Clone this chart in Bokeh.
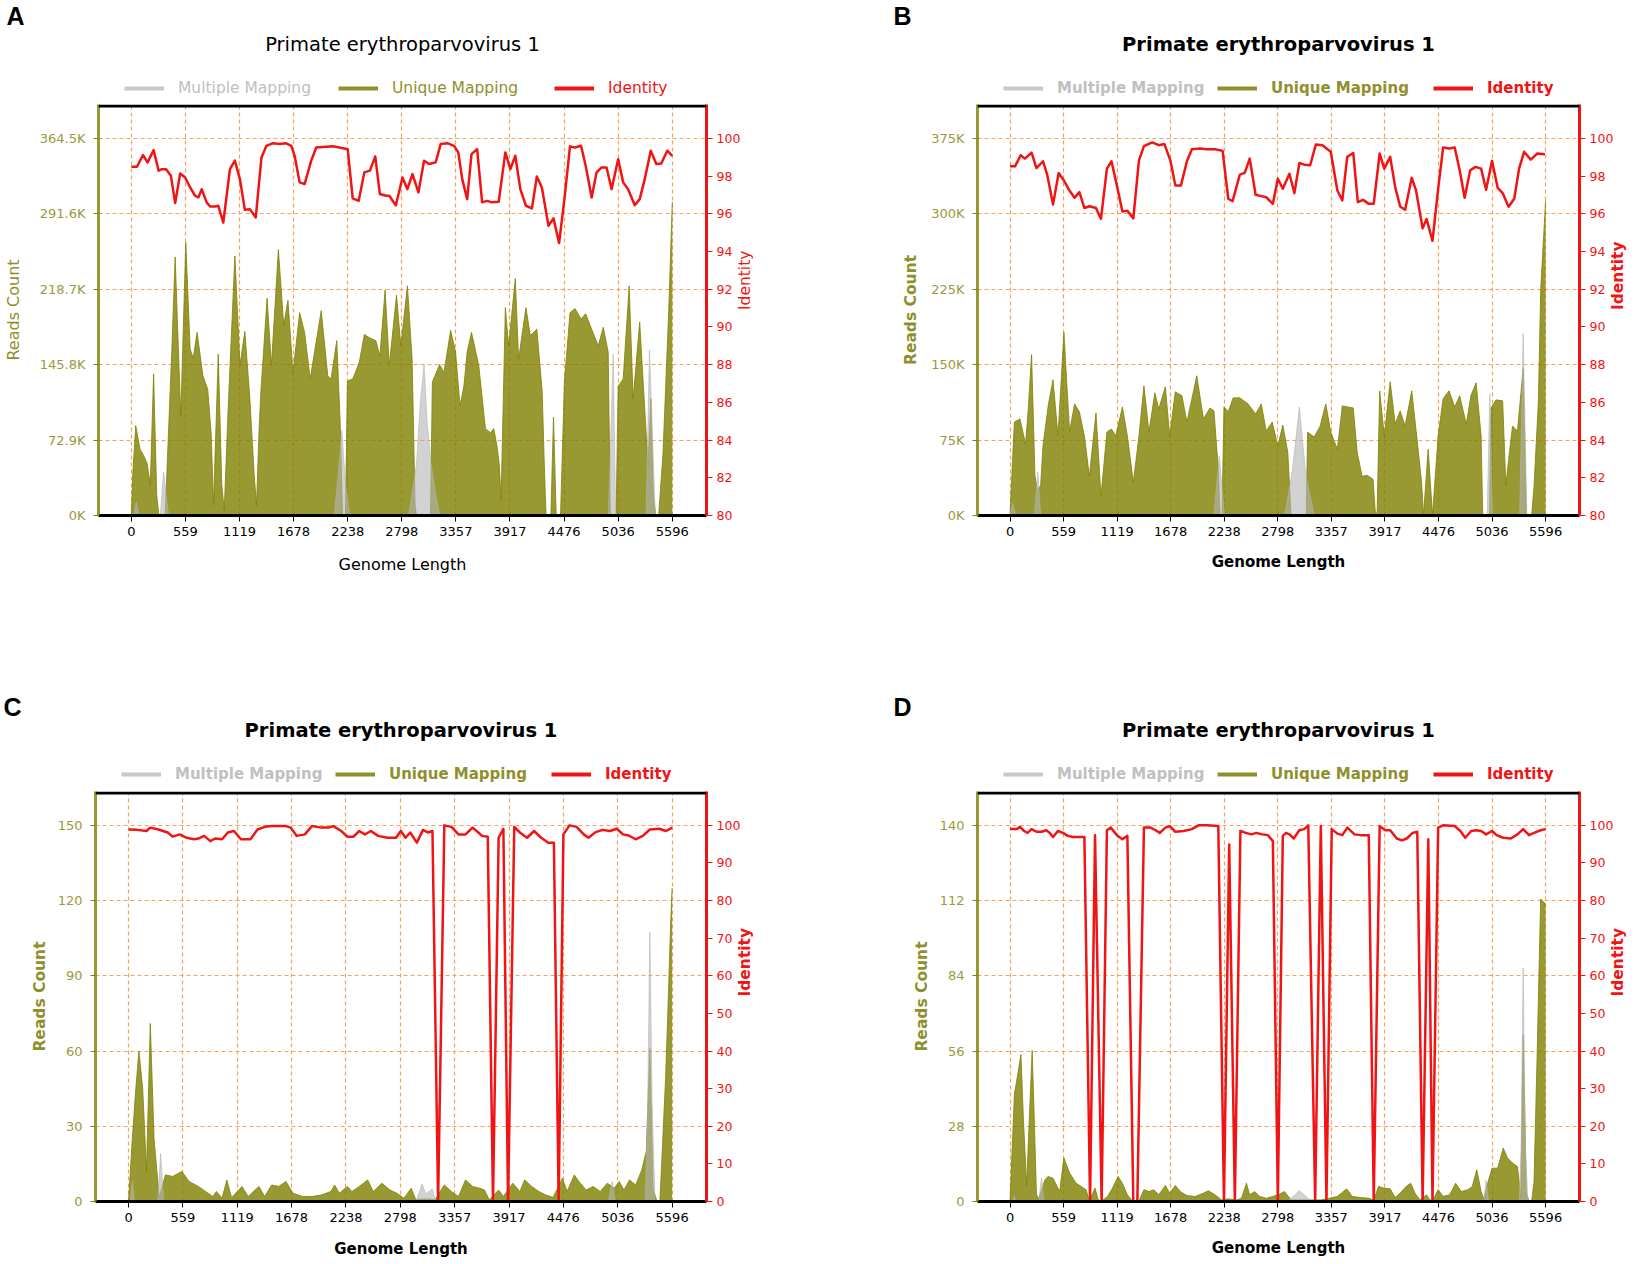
import math
from bokeh.plotting import figure
from bokeh.models import Range1d, LinearAxis, FixedTicker, Label, Legend, LegendItem, Span
from bokeh.layouts import column, row
from bokeh.embed import file_html
from bokeh.resources import INLINE

# ---------------- data ----------------
X_TICKS = [0, 559, 1119, 1678, 2238, 2798, 3357, 3917, 4476, 5036, 5596]
TITLE = "Primate erythroparvovirus 1"
SERIES_NAMES = ["Multiple Mapping", "Unique Mapping", "Identity"]

A_LEFT_TICKS = [0, 72900, 145800, 218700, 291600, 364500]
A_LEFT_LABELS = ["0K", "72.9K", "145.8K", "218.7K", "291.6K", "364.5K"]
B_LEFT_TICKS = [0, 75000, 150000, 225000, 300000, 375000]
B_LEFT_LABELS = ["0K", "75K", "150K", "225K", "300K", "375K"]
C_LEFT_TICKS = [0, 30, 60, 90, 120, 150]
D_LEFT_TICKS = [0, 28, 56, 84, 112, 140]
AB_RIGHT_TICKS = [80, 82, 84, 86, 88, 90, 92, 94, 96, 98, 100]
CD_RIGHT_TICKS = [0, 10, 20, 30, 40, 50, 60, 70, 80, 90, 100]

# Panel A (reads in thousands)
A_IDENTITY = [(0, 98.50), (58, 98.50), (120, 99.12), (168, 98.73), (230, 99.38), (282, 98.29), (316, 98.37),
              (360, 98.37), (409, 98.02), (453, 96.57), (505, 98.14), (556, 97.93), (608, 97.40), (659, 96.96),
              (693, 96.87), (728, 97.31), (779, 96.61), (814, 96.39), (865, 96.39), (899, 96.43), (951, 95.54),
              (1020, 98.37), (1071, 98.82), (1123, 97.84), (1174, 96.22), (1226, 96.25), (1287, 95.81),
              (1346, 98.99), (1397, 99.61), (1466, 99.75), (1535, 99.70), (1596, 99.75), (1655, 99.61),
              (1689, 99.08), (1741, 97.67), (1792, 97.58), (1861, 98.82), (1912, 99.52), (2015, 99.56),
              (2084, 99.58), (2152, 99.52), (2238, 99.43), (2290, 96.82), (2352, 96.69), (2410, 98.20),
              (2468, 98.29), (2523, 99.05), (2571, 97.05), (2633, 96.96), (2668, 96.96), (2736, 96.46),
              (2805, 97.93), (2856, 97.31), (2908, 98.11), (2970, 97.14), (3028, 98.82), (3080, 98.64),
              (3148, 98.73), (3200, 99.70), (3268, 99.75), (3337, 99.61), (3382, 99.26), (3423, 97.84),
              (3474, 96.78), (3519, 99.17), (3577, 99.43), (3629, 96.61), (3680, 96.69), (3732, 96.61),
              (3800, 96.64), (3869, 99.26), (3921, 98.37), (3972, 99.08), (4024, 97.31), (4082, 96.43),
              (4144, 96.29), (4195, 97.98), (4247, 97.40), (4315, 95.37), (4367, 95.76), (4425, 94.45),
              (4480, 96.78), (4538, 99.58), (4590, 99.52), (4652, 99.61), (4700, 98.55), (4762, 96.87),
              (4813, 98.20), (4865, 98.46), (4916, 98.46), (4968, 97.31), (5036, 98.90), (5088, 97.67),
              (5139, 97.31), (5208, 96.46), (5259, 96.78), (5311, 97.84), (5373, 99.35), (5431, 98.64),
              (5482, 98.67), (5544, 99.35), (5596, 99.08)]
A_UNIQUE_K = [(0, 0), (15, 40), (45, 87), (90, 64), (127, 58), (161, 51), (196, 30), (230, 137), (262, 20),
              (285, 0), (350, 0), (384, 80), (419, 161), (453, 250), (511, 96), (563, 264), (608, 161),
              (640, 152), (680, 177), (740, 135), (790, 122), (825, 80), (850, 10), (899, 156), (935, 30),
              (961, 5), (1000, 100), (1071, 251), (1123, 145), (1174, 178), (1226, 113), (1270, 40),
              (1295, 10), (1320, 80), (1340, 120), (1404, 210), (1449, 145), (1521, 257), (1576, 184),
              (1620, 208), (1672, 138), (1741, 196), (1792, 177), (1850, 132), (1964, 198), (2032, 135),
              (2066, 132), (2125, 169), (2160, 90), (2185, 0), (2215, 0), (2235, 130), (2290, 132),
              (2358, 148), (2410, 175), (2460, 172), (2530, 169), (2571, 154), (2625, 218), (2668, 145),
              (2743, 213), (2788, 164), (2856, 222), (2905, 150), (2935, 10), (2950, 0), (3095, 0),
              (3114, 129), (3189, 146), (3234, 138), (3303, 179), (3354, 158), (3400, 106), (3440, 125),
              (3474, 158), (3519, 177), (3594, 145), (3663, 84), (3715, 80), (3749, 84), (3783, 67),
              (3807, 48), (3825, 15), (3845, 100), (3869, 201), (3903, 164), (3972, 229), (4006, 151),
              (4082, 201), (4127, 174), (4195, 180), (4250, 120), (4275, 40), (4290, 0), (4340, 0),
              (4367, 95), (4395, 0), (4440, 0), (4480, 129), (4538, 196), (4590, 200), (4652, 190),
              (4700, 195), (4762, 180), (4830, 164), (4882, 182), (4933, 158), (4955, 0), (5015, 0),
              (5036, 125), (5088, 132), (5150, 222), (5191, 113), (5259, 187), (5311, 103), (5345, 48),
              (5375, 113), (5400, 20), (5425, 0), (5455, 0), (5500, 60), (5560, 200), (5596, 303)]
A_MULTIPLE_K = [(0, 0), (30, 3), (52, 13), (80, 0), (300, 0), (333, 42), (385, 0), (2100, 0), (2140, 40),
                (2177, 82), (2215, 30), (2260, 0), (2870, 0), (2950, 50), (2990, 110), (3028, 146),
                (3060, 90), (3100, 50), (3150, 20), (3190, 0), (4935, 0), (4985, 156), (5010, 0),
                (5325, 0), (5360, 160), (5420, 0), (5596, 0)]

# Panel B (reads in thousands)
B_IDENTITY = [(0, 98.52), (52, 98.52), (111, 99.11), (155, 98.93), (225, 99.25), (276, 98.43), (345, 98.79),
              (390, 98.04), (449, 96.49), (508, 98.17), (563, 97.77), (615, 97.28), (674, 96.85), (725, 97.15),
              (777, 96.31), (829, 96.40), (898, 96.31), (950, 95.73), (1012, 98.40), (1060, 98.79),
              (1116, 97.51), (1174, 96.12), (1226, 96.17), (1288, 95.76), (1347, 98.84), (1399, 99.59),
              (1485, 99.79), (1554, 99.64), (1613, 99.70), (1675, 98.84), (1727, 97.51), (1786, 97.51),
              (1848, 98.79), (1900, 99.43), (1986, 99.47), (2055, 99.43), (2141, 99.43), (2221, 99.34),
              (2280, 96.80), (2325, 96.67), (2401, 98.08), (2452, 98.17), (2504, 98.93), (2566, 97.01),
              (2625, 96.94), (2677, 96.88), (2746, 96.53), (2798, 97.86), (2850, 97.33), (2919, 98.13),
              (2971, 97.10), (3023, 98.70), (3074, 98.61), (3136, 98.58), (3195, 99.68), (3264, 99.64),
              (3351, 99.29), (3420, 97.24), (3472, 96.71), (3523, 99.02), (3586, 99.23), (3634, 96.62),
              (3689, 96.74), (3748, 96.53), (3800, 96.53), (3862, 99.20), (3910, 98.40), (3972, 99.02),
              (4024, 97.42), (4076, 96.39), (4128, 96.22), (4197, 97.92), (4242, 97.24), (4311, 95.23),
              (4352, 95.73), (4414, 94.57), (4473, 97.33), (4525, 99.52), (4587, 99.47), (4646, 99.52),
              (4698, 98.31), (4750, 96.85), (4808, 98.31), (4864, 98.49), (4922, 98.40), (4974, 97.28),
              (5036, 98.81), (5095, 97.38), (5147, 97.10), (5209, 96.38), (5268, 96.80), (5319, 98.40),
              (5371, 99.29), (5440, 98.88), (5509, 99.20), (5589, 99.16)]
B_UNIQUE_K = [(0, 0), (45, 93), (104, 96), (162, 71), (190, 105), (225, 160), (260, 40), (287, 25),
              (320, 30), (345, 70), (400, 110), (449, 135), (501, 79), (563, 182), (622, 83), (674, 111),
              (725, 103), (777, 79), (829, 39), (898, 102), (950, 19), (1012, 83), (1060, 86), (1105, 79),
              (1174, 108), (1226, 79), (1288, 33), (1347, 79), (1399, 129), (1451, 83), (1513, 122),
              (1554, 106), (1623, 128), (1668, 79), (1727, 123), (1796, 119), (1848, 93), (1951, 139),
              (2021, 96), (2090, 107), (2131, 104), (2176, 46), (2195, 0), (2215, 0), (2235, 108),
              (2280, 103), (2331, 117), (2401, 117), (2487, 111), (2566, 101), (2625, 111), (2677, 84),
              (2739, 93), (2798, 69), (2850, 90), (2902, 63), (2936, 0), (3095, 0), (3109, 83),
              (3178, 78), (3240, 89), (3299, 111), (3351, 83), (3420, 66), (3472, 109), (3586, 107),
              (3627, 63), (3679, 39), (3731, 40), (3793, 36), (3815, 5), (3835, 0), (3862, 124),
              (3910, 79), (3972, 133), (4024, 91), (4076, 104), (4128, 89), (4197, 124), (4249, 79),
              (4300, 33), (4320, 0), (4369, 66), (4414, 0), (4473, 79), (4525, 116), (4587, 124),
              (4646, 108), (4698, 119), (4767, 91), (4815, 119), (4870, 132), (4922, 79), (4939, 0),
              (5010, 0), (5026, 107), (5078, 115), (5147, 114), (5180, 30), (5215, 60), (5250, 89),
              (5302, 84), (5361, 146), (5395, 0), (5450, 0), (5475, 29), (5520, 113), (5545, 226),
              (5596, 313)]
B_MULTIPLE_K = [(0, 0), (25, 12), (60, 0), (255, 0), (290, 43), (320, 0), (2130, 0), (2186, 59), (2240, 0),
                (2870, 0), (2950, 45), (3023, 108), (3090, 40), (3180, 0), (4985, 0), (5013, 121),
                (5040, 0), (5325, 0), (5361, 181), (5400, 0), (5596, 0)]

# Panel C (reads)
C_IDENTITY = [(0, 98.9), (88, 98.8), (185, 98.5), (224, 99.4), (307, 98.9), (404, 98.1), (453, 97.0),
              (526, 97.6), (599, 96.7), (672, 96.3), (720, 96.5), (779, 97.2), (842, 95.8), (891, 96.5),
              (963, 96.3), (1022, 98.1), (1085, 98.5), (1158, 96.3), (1255, 96.3), (1328, 98.9),
              (1401, 99.6), (1474, 99.8), (1620, 99.8), (1669, 99.4), (1732, 97.2), (1815, 97.6),
              (1888, 99.8), (1985, 99.4), (2058, 99.4), (2107, 99.8), (2190, 98.5), (2253, 97.0),
              (2316, 97.0), (2375, 98.5), (2433, 97.6), (2496, 98.5), (2569, 97.2), (2666, 96.7),
              (2754, 96.7), (2803, 98.5), (2851, 96.7), (2900, 98.1), (2968, 95.4), (3032, 98.8),
              (3081, 98.1), (3129, 98.5), (3187, 0), (3251, 100), (3324, 99.6), (3397, 97.6), (3469, 97.6),
              (3542, 99.4), (3601, 98.1), (3640, 97.2), (3698, 97.0), (3752, 0), (3810, 96.7), (3859, 99.1),
              (3907, 0), (3971, 99.6), (4029, 98.1), (4102, 96.7), (4175, 98.5), (4248, 96.7), (4321, 95.4),
              (4379, 95.4), (4428, 0), (4477, 97.6), (4540, 100), (4613, 99.6), (4686, 97.6), (4735, 96.7),
              (4808, 98.2), (4881, 98.8), (4954, 98.5), (5027, 99.1), (5090, 97.6), (5148, 97.3),
              (5221, 96.3), (5294, 97.2), (5367, 98.9), (5465, 99.1), (5533, 98.5), (5596, 99.4)]
C_UNIQUE = [(0, 0), (39, 25), (73, 44), (107, 60), (146, 45), (185, 12), (224, 71), (263, 25), (292, 12),
            (315, 2), (340, 5), (380, 10.6), (453, 10), (550, 12), (623, 8), (720, 6), (793, 4), (866, 2),
            (905, 4), (963, 1.3), (1012, 8.6), (1061, 1.5), (1168, 6), (1231, 2), (1343, 6), (1401, 2),
            (1474, 6.6), (1547, 6), (1620, 8), (1693, 3.3), (1791, 2), (1888, 2), (1985, 2.6), (2083, 4),
            (2122, 6.6), (2170, 3.3), (2253, 6), (2300, 4), (2375, 6), (2462, 8.6), (2520, 4), (2608, 7.3),
            (2691, 4.6), (2763, 3.3), (2836, 1.3), (2910, 5.3), (2958, 0.7), (3000, 1), (3100, 1),
            (3154, 0.7), (3251, 6.6), (3324, 4), (3397, 2), (3469, 8.6), (3542, 6), (3615, 5.3),
            (3664, 4.6), (3713, 0.7), (3810, 4.6), (3859, 2), (3956, 7.3), (4029, 4), (4078, 8.6),
            (4151, 6), (4224, 4), (4297, 2.6), (4370, 1.6), (4467, 9.3), (4515, 4), (4589, 10.6),
            (4637, 8), (4710, 4.6), (4783, 6), (4856, 4), (4929, 7.3), (5002, 5.3), (5051, 8), (5100, 4.6),
            (5158, 8.6), (5221, 6.6), (5284, 12.6), (5330, 20), (5367, 61), (5400, 5), (5440, 0),
            (5470, 0), (5500, 25), (5530, 50), (5560, 85), (5580, 110), (5596, 125)]
C_MULTIPLE = [(0, 0), (20, 0), (39, 8), (60, 0), (300, 0), (331, 19), (360, 0), (2960, 0), (3022, 7),
              (3060, 3), (3129, 5), (3160, 0), (4940, 0), (4978, 8), (5010, 0), (5320, 0), (5345, 40),
              (5367, 107.5), (5390, 40), (5420, 0), (5596, 0)]

# Panel D (reads)
D_IDENTITY = [(0, 99.0), (69, 99.0), (104, 99.6), (148, 98.5), (183, 98.0), (225, 99.0), (276, 98.3),
              (328, 98.3), (380, 98.7), (414, 98.0), (449, 96.9), (501, 98.5), (553, 98.0), (604, 97.2),
              (656, 96.9), (725, 96.9), (777, 96.9), (836, 0), (888, 97.4), (957, 0), (1012, 98.7),
              (1053, 99.4), (1116, 97.4), (1174, 96.3), (1226, 97.2), (1288, 0), (1330, 0), (1399, 99.4),
              (1468, 99.4), (1520, 98.7), (1565, 98.0), (1623, 99.4), (1668, 99.8), (1727, 98.3),
              (1813, 98.5), (1900, 99.0), (1969, 100), (2055, 100), (2176, 99.8), (2235, 0), (2290, 94.9),
              (2349, 0), (2407, 98.5), (2463, 98.0), (2521, 97.6), (2573, 98.0), (2635, 97.6), (2694, 97.4),
              (2746, 95.8), (2798, 0), (2850, 97.2), (2884, 98.0), (2919, 97.6), (2964, 96.5), (3023, 98.7),
              (3074, 99.0), (3116, 100), (3188, 0), (3247, 99.8), (3306, 0), (3361, 99.0), (3420, 97.8),
              (3472, 97.4), (3524, 99.4), (3599, 97.6), (3661, 97.4), (3748, 97.4), (3800, 0), (3862, 99.8),
              (3920, 98.7), (3972, 98.7), (4041, 96.5), (4093, 96.0), (4145, 96.5), (4207, 98.0),
              (4255, 98.3), (4311, 0), (4370, 96.3), (4414, 0), (4473, 99.4), (4525, 100), (4646, 99.8),
              (4705, 98.5), (4756, 96.7), (4818, 98.5), (4870, 98.7), (4922, 98.5), (4974, 97.6),
              (5036, 98.5), (5084, 97.4), (5153, 96.7), (5233, 96.5), (5302, 97.6), (5361, 99.0),
              (5423, 97.4), (5475, 98.0), (5544, 98.7), (5596, 99.0)]
D_UNIQUE = [(0, 0), (45, 39.8), (69, 44.8), (114, 54.7), (138, 32), (173, 6), (231, 56.2), (252, 32),
            (276, 2.5), (300, 1), (363, 8), (397, 9.3), (449, 8.7), (518, 3.7), (563, 16.2), (622, 10.6),
            (691, 6.8), (743, 5.6), (794, 4.4), (829, 0.2), (888, 5), (922, 0.6), (957, 0.2), (1019, 1.9),
            (1071, 5), (1129, 9.3), (1174, 6.8), (1226, 2.5), (1278, 0.2), (1347, 0.2), (1399, 4.4),
            (1451, 3.7), (1503, 4.4), (1554, 2.5), (1623, 6), (1668, 3.1), (1727, 6), (1779, 3.7),
            (1848, 2.2), (1934, 1.9), (2021, 3.1), (2072, 4), (2141, 2.5), (2211, 0.6), (2280, 1),
            (2366, 0.6), (2418, 1.2), (2470, 6.8), (2504, 2.5), (2556, 3.7), (2608, 1.9), (2677, 1.2),
            (2746, 1.9), (2815, 2.7), (2867, 3.7), (2936, 0.6), (3050, 0.6), (3143, 0.6), (3247, 0.6),
            (3333, 1.2), (3420, 1.9), (3517, 4.7), (3575, 1.9), (3661, 1.5), (3748, 1.2), (3800, 0.6),
            (3851, 5.6), (3903, 5), (3972, 4.7), (4024, 1.5), (4076, 3.1), (4138, 5.6), (4186, 6.8),
            (4231, 3.1), (4283, 0.6), (4352, 2.5), (4386, 0.6), (4421, 0.6), (4473, 4.4), (4525, 1.9),
            (4594, 2.5), (4656, 6.8), (4715, 3.7), (4784, 4.4), (4829, 5.6), (4877, 11.8), (4922, 3.7),
            (4950, 1), (5000, 8), (5036, 12.4), (5095, 12.4), (5153, 19.9), (5198, 16.2), (5250, 14.3),
            (5302, 13), (5337, 1.2), (5361, 62), (5395, 3), (5423, 0), (5450, 0), (5475, 7.5), (5509, 57),
            (5544, 112.6), (5589, 111), (5596, 110)]
D_MULTIPLE = [(0, 0), (30, 0), (45, 2), (60, 0), (300, 0), (328, 8.7), (355, 0), (2900, 0), (2960, 2),
              (3023, 4), (3090, 2), (3150, 0), (4950, 0), (4974, 8), (5000, 0), (5320, 0), (5340, 20),
              (5361, 87), (5385, 20), (5410, 0), (5596, 0)]

# ---------------- style ----------------
OLIVE = "#808000"
OLIVE_TXT = "#8f8f2c"
GRAY = "#b4b4b4"
GRAY_TXT = "#c0c0c0"
RED = "#f01414"
GRID = "#f5a25a"
FONT = "DejaVu Sans"
HEADER_H = 104


def unzip(pairs, scale=1.0):
    return [p[0] for p in pairs], [p[1] * scale for p in pairs]


def make_header(letter, width, border_l, frame_w, bold, letter_y, letter_standoff, title_y, legend_y):
    h = figure(width=width, height=HEADER_H, x_range=Range1d(0, frame_w), y_range=Range1d(0, HEADER_H),
               output_backend="svg", toolbar_location=None, title=None,
               x_axis_type=None, y_axis_type=None,
               min_border_left=border_l, min_border_right=width - border_l - frame_w,
               min_border_top=0, min_border_bottom=0)
    h.outline_line_color = None
    # panel letter, drawn as the only tick label of an invisible left axis
    la = LinearAxis(ticker=FixedTicker(ticks=[letter_y]), major_label_overrides={letter_y: letter})
    la.axis_line_color = None
    la.major_tick_line_color = None
    la.minor_tick_line_color = None
    la.major_label_standoff = letter_standoff
    la.major_label_text_font = "Liberation Sans"
    la.major_label_text_font_style = "bold"
    la.major_label_text_font_size = "25px"
    la.major_label_text_color = "black"
    h.add_layout(la, "left")

    h.add_layout(Label(x=frame_w / 2, y=title_y, text=TITLE, text_font=FONT,
                       text_font_style="bold" if bold else "normal", text_font_size="19.5px",
                       text_color="black", text_align="center", text_baseline="middle"))
    cols = [("#c8c8c8", GRAY_TXT), ("#8f8f2c", OLIVE_TXT), (RED, RED)]
    offs = [26, 240, 456]
    for name, (lc, tc), off in zip(SERIES_NAMES, cols, offs):
        rend = h.line([0, 1], [-50, -50], line_color=lc, line_width=4)
        leg = Legend(items=[LegendItem(label=name, renderers=[rend])], location=(off, legend_y - 10),
                     orientation="horizontal", padding=0, margin=0, spacing=0,
                     glyph_width=40, glyph_height=20, label_height=20, label_standoff=14,
                     label_text_font=FONT, label_text_font_size="15px" if bold else "15.5px",
                     label_text_font_style="bold" if bold else "normal",
                     label_text_color=tc, border_line_color=None, background_fill_alpha=0)
        h.add_layout(leg)
    return h


def make_main(identity, unique, multiple, scale, left_ticks, left_labels, right_ticks, right_range,
              bold, width, height, border_l, frame_w, frame_h, reads_standoff, genome_standoff):
    ymax = left_ticks[-1] * 1.09
    p = figure(width=width, height=height, x_range=Range1d(-340, 5950), y_range=Range1d(0, ymax),
               output_backend="svg", toolbar_location=None, title=None,
               min_border_left=border_l, min_border_right=width - border_l - frame_w,
               min_border_top=0, min_border_bottom=height - frame_h)
    p.outline_line_color = None
    weight = "bold" if bold else "normal"

    xt = FixedTicker(ticks=X_TICKS)
    yt = FixedTicker(ticks=left_ticks)
    xa = p.xaxis[0]
    xa.ticker = xt
    xa.axis_line_color = "black"
    xa.axis_line_width = 3
    xa.major_tick_line_color = "black"
    xa.major_tick_out = 6
    xa.major_tick_in = 0
    xa.minor_tick_line_color = None
    xa.major_label_standoff = 5
    xa.major_label_text_font = FONT
    xa.major_label_text_font_size = "13px"
    xa.major_label_text_color = "black"
    xa.axis_label = "Genome Length"
    xa.axis_label_text_font = FONT
    xa.axis_label_text_font_size = "15px" if bold else "16px"
    xa.axis_label_text_font_style = weight
    xa.axis_label_text_color = "black"
    xa.axis_label_standoff = genome_standoff

    ya = p.yaxis[0]
    ya.ticker = yt
    if left_labels is not None:
        ya.major_label_overrides = {t: s for t, s in zip(left_ticks, left_labels)}
    ya.axis_line_color = OLIVE
    ya.axis_line_alpha = 0.8
    ya.axis_line_width = 3
    ya.major_tick_line_color = OLIVE
    ya.major_tick_out = 5
    ya.major_tick_in = 0
    ya.minor_tick_line_color = None
    ya.major_label_standoff = 8
    ya.major_label_text_font = FONT
    ya.major_label_text_font_size = "13px"
    ya.major_label_text_color = "#9a9a3c"
    ya.axis_label = "Reads Count"
    ya.axis_label_text_font = FONT
    ya.axis_label_text_font_size = "15.5px" if bold else "16px"
    ya.axis_label_text_font_style = weight
    ya.axis_label_text_color = OLIVE_TXT
    ya.axis_label_standoff = reads_standoff

    for g, t in ((p.xgrid[0], xt), (p.ygrid[0], yt)):
        g.ticker = t
        g.grid_line_color = GRID
        g.grid_line_dash = "4 3"
        g.grid_line_width = 1.2

    p.extra_y_ranges = {"id": Range1d(right_range[0], right_range[1])}
    ra = LinearAxis(y_range_name="id", ticker=FixedTicker(ticks=right_ticks))
    ra.axis_line_color = RED
    ra.axis_line_width = 3
    ra.major_tick_line_color = RED
    ra.major_tick_out = 6
    ra.major_tick_in = 0
    ra.minor_tick_line_color = None
    ra.major_label_standoff = 4
    ra.major_label_text_font = FONT
    ra.major_label_text_font_size = "12.5px"
    ra.major_label_text_color = RED
    ra.axis_label = "Identity"
    ra.axis_label_text_font = FONT
    ra.axis_label_text_font_size = "15.5px"
    ra.axis_label_text_font_style = weight
    ra.axis_label_text_color = RED
    ra.axis_label_standoff = 2
    try:
        ra.axis_label_orientation = math.pi / 2
    except Exception:
        pass
    p.add_layout(ra, "right")

    # black top border of the plot area
    p.add_layout(Span(location=ymax * (1 - 1.5 / frame_h), dimension="width",
                      line_color="black", line_width=3))

    ux, uy = unzip(unique, scale)
    gx, gy = unzip(multiple, scale)
    ix, iy = unzip(identity)
    p.varea(x=ux, y1=0, y2=uy, fill_color=OLIVE, fill_alpha=0.8)
    p.line(ux, uy, line_color=OLIVE, line_alpha=0.8, line_width=1)
    p.varea(x=gx, y1=0, y2=gy, fill_color=GRAY, fill_alpha=0.6)
    p.line(gx, gy, line_color=GRAY, line_alpha=0.6, line_width=1)
    p.line(ix, iy, y_range_name="id", line_color=RED, line_width=2.5, line_join="round")
    return p


W_L, W_R = 890, 749
BL_L, BL_R = 95, 87
FW_L, FW_R = 611, 602
TOP_MAIN_H = 687 - HEADER_H      # frame 104..515
BOT_MAIN_H = 576 - HEADER_H      # frame 791..1201

ha = make_header("A", W_L, BL_L, FW_L, False, 89, 68, 60, 16.5)
pa = make_main(A_IDENTITY, A_UNIQUE_K, A_MULTIPLE_K, 1000, A_LEFT_TICKS, A_LEFT_LABELS, AB_RIGHT_TICKS,
               (80, 101.8), False, W_L, TOP_MAIN_H, BL_L, FW_L, 411, 14, 16)
hb = make_header("B", W_R, BL_R, FW_R, True, 89, 60, 60, 16.5)
pb = make_main(B_IDENTITY, B_UNIQUE_K, B_MULTIPLE_K, 1000, B_LEFT_TICKS, B_LEFT_LABELS, AB_RIGHT_TICKS,
               (80, 101.8), True, W_R, TOP_MAIN_H, BL_R, FW_R, 411, 8, 14)
hc = make_header("C", W_L, BL_L, FW_L, True, 95, 68, 61, 17.5)
pc = make_main(C_IDENTITY, C_UNIQUE, C_MULTIPLE, 1, C_LEFT_TICKS, None, CD_RIGHT_TICKS,
               (0, 109), True, W_L, BOT_MAIN_H, BL_L, FW_L, 410, 6, 15)
hd = make_header("D", W_R, BL_R, FW_R, True, 95, 60, 61, 17.5)
pd = make_main(D_IDENTITY, D_UNIQUE, D_MULTIPLE, 1, D_LEFT_TICKS, None, CD_RIGHT_TICKS,
               (0, 109), True, W_R, BOT_MAIN_H, BL_R, FW_R, 410, 6, 14)

layout = column(row(column(ha, pa), column(hb, pb)), row(column(hc, pc), column(hd, pd)))
open("out.html", "w").write(file_html(layout, INLINE))
